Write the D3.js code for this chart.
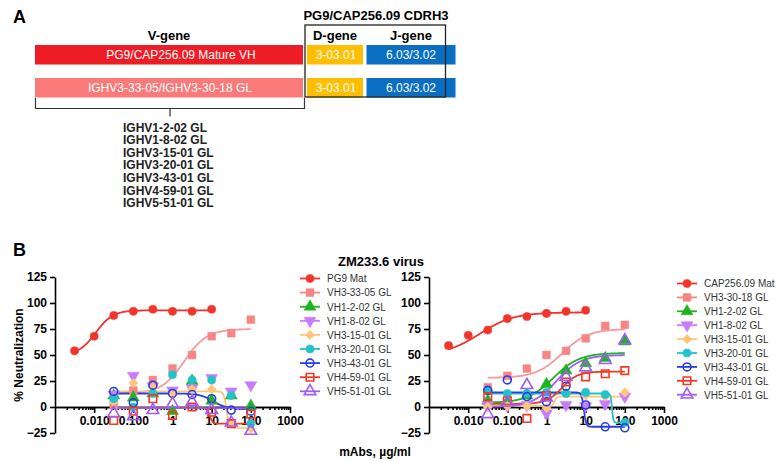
<!DOCTYPE html>
<html><head><meta charset="utf-8">
<script src="https://cdn.jsdelivr.net/npm/d3@7"></script>
<style>
body{margin:0;background:#fff}
svg{display:block;font-family:"Liberation Sans",Arial,sans-serif}
</style>
</head><body>
<svg id="c" width="776" height="461"></svg>
<script>
// ---------- Panel A data ----------
const vGeneRows = ["PG9/CAP256.09 Mature VH", "IGHV3-33-05/IGHV3-30-18 GL"];
const dGeneRows = ["3-03.01", "3-03.01"];
const jGeneRows = ["6.03/3.02", "6.03/3.02"];
const germlineList = ["IGHV1-2-02 GL","IGHV1-8-02 GL","IGHV3-15-01 GL","IGHV3-20-01 GL","IGHV3-43-01 GL","IGHV4-59-01 GL","IGHV5-51-01 GL"];

// ---------- Panel B data ----------
const concMature = [0.00316, 0.01, 0.0316, 0.1, 0.316, 1, 3.16, 10];
const concGL = [0.0316, 0.1, 0.316, 1, 3.16, 10, 31.6, 100];
const xTickValues = [0.01, 0.1, 1, 10, 100, 1000];
const xTickLabels = ["0.010", "0.100", "1", "10", "100", "1000"];
const yTickValues = [-25, 0, 25, 50, 75, 100, 125];

const leftNames = ["PG9 Mat","VH3-33-05 GL","VH1-2-02 GL","VH1-8-02 GL","VH3-15-01 GL","VH3-20-01 GL","VH3-43-01 GL","VH4-59-01 GL","VH5-51-01 GL"];
const rightNames = ["CAP256.09 Mat","VH3-30-18 GL","VH1-2-02 GL","VH1-8-02 GL","VH3-15-01 GL","VH3-20-01 GL","VH3-43-01 GL","VH4-59-01 GL","VH5-51-01 GL"];

const leftPG9    = [54, 68, 88, 92, 94, 92, 92, 94];
const leftVH3_33 = [2, 16, 26, 37, 50, 68, 71, 84];
const leftVH1_2  = [11, 9, 13, -4, 25, 6, 11, 1];
const leftVH1_8  = [12, 30, 20, 16, 18, 28, 15, 21];
const leftVH3_15 = [5, 23, 19, 12, 17, 17, -14, -21];
const leftVH3_20 = [8, 0, 13, 31, 26, 26, 11, -16];
const leftVH3_43 = [15, 4, 21, 13, 12, 8, -3, -4];
const leftVH4_59 = [-13, -4, 8, -8, 0, -5, -16, -7];
const leftVH5_51 = [-6, -9, -3, 3, 5, -3, -15, -23];

const rightCAP    = [59, 69, 74, 85, 87, 90, 92, 93];
const rightVH3_30 = [19, 30, 37, 50, 54, 66, 78, 79];
const rightVH1_2  = [6, 5, 11, 22, 35, 42, 47, 63];
const rightVH1_8  = [2, 1, 2, -6, 2, 1, 3, 10];
const rightVH3_15 = [0, 1, 1, -1, 14, 11, 10, 14];
const rightVH3_20 = [16, 13, 13, 14, 13, 14, 12, -15];
const rightVH3_43 = [16, 26, 10, 5, 20, 2, -19, -20];
const rightVH4_59 = [10, 6, -11, 11, 24, 29, 32, 35];
const rightVH5_51 = [-7, 4, 21, 9, 29, 38, 45, 64];

// four-parameter fit [bottom, top, EC50, hill] (null = no fitted curve)
const leftFits = [[50,93,0.011,2],[13,75,2,1.5],null,null,[15,-20,24,12],null,[13,-2,11,2.5],[-1,-16,9,12],[-1,-1,1,1]];
const rightFits = [[50,91,0.02,1],[28,75,2.5,1.3],[4,52,1.5,1.3],null,[1,10,1.6,15],[13,-15,47,25],[14,-19,9,15],[3,34,2.5,2.2],[0,50,1.8,1.4]];

const colors = ["#f1352b","#f78585","#1fb31f","#c77dfb","#fdc67a","#22c3c8","#2a3ee6","#f03a24","#9f5cf7"];
const lineColors = ["#f1352b","#f89a9a","#1fb31f","#c77dfb","#fdc67a","#22c3c8","#2a3ee6","#f03a24","#9f5cf7"];
const symbols = ["circle","square","triangle","triangleDown","diamond","circle","circle","square","triangle"];
const filled = [true,true,true,true,true,true,false,false,false];

const svg = d3.select("#c");

// ---------- Panel A ----------
svg.append("text").attr("x",13).attr("y",23).attr("font-size",18).attr("font-weight","bold").text("A");
svg.append("text").attr("x",169).attr("y",40).attr("text-anchor","middle").attr("font-size",13).attr("font-weight","bold").text("V-gene");
svg.append("text").attr("x",376).attr("y",20).attr("text-anchor","middle").attr("font-size",13).attr("font-weight","bold").text("PG9/CAP256.09 CDRH3");
svg.append("text").attr("x",335).attr("y",40).attr("text-anchor","middle").attr("font-size",13).attr("font-weight","bold").text("D-gene");
svg.append("text").attr("x",411).attr("y",40).attr("text-anchor","middle").attr("font-size",13).attr("font-weight","bold").text("J-gene");

const rowY = [45, 78];
const rowH = 19.5;
const vColors = ["#ee1c25", "#fa7a7a"];
const vTextX = [181, 170];
vGeneRows.forEach((t,i)=>{
  svg.append("rect").attr("x",35).attr("y",rowY[i]).attr("width",268).attr("height",rowH).attr("fill",vColors[i]);
  svg.append("text").attr("x",vTextX[i]).attr("y",rowY[i]+14).attr("text-anchor","middle").attr("font-size",12).attr("fill","#fff").text(t);
  svg.append("rect").attr("x",307).attr("y",rowY[i]).attr("width",56).attr("height",rowH).attr("fill","#ffbf00");
  svg.append("text").attr("x",336).attr("y",rowY[i]+14).attr("text-anchor","middle").attr("font-size",12).attr("fill","#fff").text(dGeneRows[i]);
  svg.append("rect").attr("x",366.5).attr("y",rowY[i]).attr("width",89).attr("height",rowH).attr("fill","#0a6fc2");
  svg.append("text").attr("x",411).attr("y",rowY[i]+14).attr("text-anchor","middle").attr("font-size",12).attr("fill","#fff").text(jGeneRows[i]);
});
svg.append("rect").attr("x",305).attr("y",25).attr("width",140.5).attr("height",72).attr("fill","none").attr("stroke","#222").attr("stroke-width",1.3);
svg.append("path").attr("d","M35.5,98V108.5H304.5V98M170,108.5V116.5").attr("fill","none").attr("stroke","#333").attr("stroke-width",1.2);
germlineList.forEach((t,i)=>{
  svg.append("text").attr("x",123).attr("y",131.5+i*12.6).attr("font-size",12).attr("font-weight","bold").attr("fill","#222").text(t);
});

// ---------- Panel B ----------
svg.append("text").attr("x",13).attr("y",256).attr("font-size",18).attr("font-weight","bold").text("B");
svg.append("text").attr("x",381).attr("y",266).attr("text-anchor","middle").attr("font-size",13).attr("font-weight","bold").text("ZM233.6 virus");
svg.append("text").attr("transform","translate(23,355) rotate(-90)").attr("text-anchor","middle").attr("font-size",12).attr("font-weight","bold").text("% Neutralization");
svg.append("text").attr("x",375).attr("y",456).attr("text-anchor","middle").attr("font-size",12).attr("font-weight","bold").text("mAbs, \u00b5g/ml");

const y = d3.scaleLinear().domain([-25,125]).range([433,277]);

const minorTicks = [];
for (let e=-3; e<3; e++) for (let k=2;k<=9;k++) minorTicks.push(k*Math.pow(10,e));

function symPath(name, size){
  const map = {circle:d3.symbolCircle, square:d3.symbolSquare, triangle:d3.symbolTriangle, triangleDown:d3.symbolTriangle, diamond:d3.symbolSquare};
  return d3.symbol().type(map[name]).size(size)();
}
function symTransform(name, cx, cy){
  if (name==="triangleDown") return `translate(${cx},${cy}) rotate(180)`;
  if (name==="diamond") return `translate(${cx},${cy}) rotate(45)`;
  return `translate(${cx},${cy})`;
}
const symSize = {circle:52, square:60, triangle:62, triangleDown:62, diamond:44};

function drawMarker(g, i, cx, cy){
  const s = symbols[i];
  g.append("path").attr("d", symPath(s, filled[i]? symSize[s] : symSize[s]*0.95))
    .attr("transform", symTransform(s, cx, cy))
    .attr("fill", filled[i]? colors[i] : "none")
    .attr("stroke", colors[i]).attr("stroke-width", filled[i]?0.5:1.6);
}

function drawChart(x0, names, series, fits, legendX, legendY0, legendStep){
  const x = d3.scaleLog().domain([0.001,1000]).range([x0, x0+235]);
  const g = svg.append("g");
  const yAxis = d3.axisLeft(y).tickValues(yTickValues).tickSize(5).tickSizeOuter(0).tickPadding(3);
  g.append("g").attr("transform",`translate(${x0},0)`).call(yAxis);
  const xAxis = d3.axisBottom(x).tickValues(xTickValues).tickFormat((d,i)=>xTickLabels[i]).tickSize(6).tickSizeOuter(0).tickPadding(3);
  const xMinor = d3.axisBottom(x).tickValues(minorTicks).tickFormat("").tickSize(3).tickSizeOuter(0);
  g.append("g").attr("transform",`translate(0,${y(0)})`).call(xMinor);
  g.append("g").attr("transform",`translate(0,${y(0)})`).call(xAxis);
  g.selectAll(".domain, .tick line").attr("stroke","#000").attr("stroke-width",1.6);
  g.selectAll(".tick text").attr("font-size",12).attr("font-weight","bold").attr("fill","#000").attr("font-family","Liberation Sans, Arial, sans-serif");

  const line = d3.line().x(d=>x(d[0])).y(d=>y(d[1]));
  series.forEach((vals,i)=>{
    const f = fits[i]; if(!f) return;
    const conc = i===0 ? concMature : concGL;
    const lo = Math.log10(conc[0]), hi = Math.log10(conc[conc.length-1]);
    const pts = d3.range(0,401).map(k=>{
      const c = Math.pow(10, lo + (hi-lo)*k/400);
      const v = f[0] + (f[1]-f[0])/(1+Math.pow(f[2]/c, f[3]));
      return [c, v];
    });
    g.append("path").attr("d", line(pts)).attr("fill","none").attr("stroke", lineColors[i]).attr("stroke-width",1.8);
  });
  series.forEach((vals,i)=>{
    const conc = i===0 ? concMature : concGL;
    vals.forEach((v,j)=>{ if(v!==null) drawMarker(g, i, x(conc[j]), y(v)); });
  });
  names.forEach((n,i)=>{
    const ly = legendY0 + i*legendStep;
    g.append("line").attr("x1",legendX).attr("x2",legendX+20).attr("y1",ly).attr("y2",ly).attr("stroke",colors[i]).attr("stroke-width",1.8);
    drawMarker(g, i, legendX+10, ly);
    g.append("text").attr("x",legendX+27).attr("y",ly+3.8).attr("font-size",10).attr("fill","#333").text(n);
  });
}

drawChart(55, leftNames, [leftPG9,leftVH3_33,leftVH1_2,leftVH1_8,leftVH3_15,leftVH3_20,leftVH3_43,leftVH4_59,leftVH5_51], leftFits, 300, 278.5, 14.1);
drawChart(429, rightNames, [rightCAP,rightVH3_30,rightVH1_2,rightVH1_8,rightVH3_15,rightVH3_20,rightVH3_43,rightVH4_59,rightVH5_51], rightFits, 677, 283.5, 13.9);
</script>
</body></html>
